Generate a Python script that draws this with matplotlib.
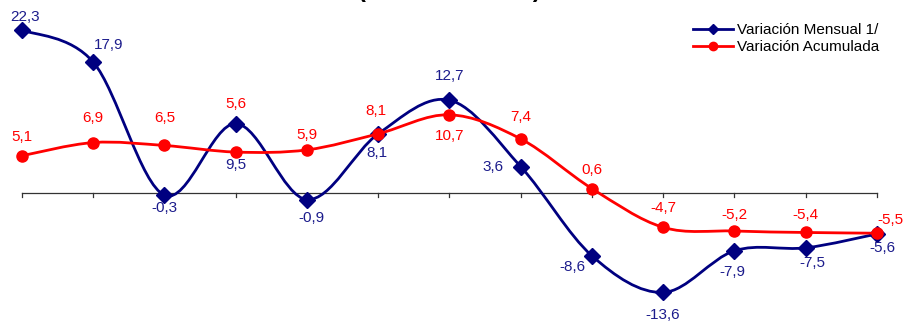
import matplotlib
matplotlib.use("Agg")
import matplotlib.pyplot as plt
import numpy as np
from matplotlib.path import Path
from matplotlib.patches import PathPatch
from matplotlib.lines import Line2D

plt.rcParams['font.family'] = ['Liberation Sans', 'DejaVu Sans']

months = list(range(13))
mensual = [22.3, 17.9, -0.3, 9.5, -0.9, 8.1, 12.7, 3.6, -8.6, -13.6, -7.9, -7.5, -5.6]
acumulada = [5.1, 6.9, 6.5, 5.6, 5.9, 8.1, 10.7, 7.4, 0.6, -4.7, -5.2, -5.4, -5.5]
labels_mensual = ["22,3", "17,9", "-0,3", "9,5", "-0,9", "8,1", "12,7", "3,6", "-8,6", "-13,6", "-7,9", "-7,5", "-5,6"]
labels_acum = ["5,1", "6,9", "6,5", "5,6", "5,9", "8,1", "10,7", "7,4", "0,6", "-4,7", "-5,2", "-5,4", "-5,5"]

BLUE = '#000080'
BLUE_TXT = '#1c1c8c'
RED = '#ff0000'

W, H = 904, 324
fig = plt.figure(figsize=(W / 100, H / 100), dpi=100)
x0, x1 = 22, 877
ax = fig.add_axes([x0 / W, 0, (x1 - x0) / W, 1])
ax.set_xlim(0, 12)
ppu = 7.31
zero_px = 193
ax.set_ylim(-(H - zero_px) / ppu, zero_px / ppu)
ax.axis('off')


def smooth_path(xs, ys):
    pts = np.column_stack([xs, ys]).astype(float)
    n = len(pts)
    verts = [pts[0]]
    codes = [Path.MOVETO]
    for i in range(n - 1):
        p0 = pts[i - 1] if i > 0 else pts[i]
        p1 = pts[i]
        p2 = pts[i + 1]
        p3 = pts[i + 2] if i + 2 < n else pts[i + 1]
        c1 = p1 + (p2 - p0) / 6.0
        c2 = p2 - (p3 - p1) / 6.0
        verts += [c1, c2, p2]
        codes += [Path.CURVE4] * 3
    return Path(verts, codes)


# zero axis with ticks
ax.plot([0, 12], [0, 0], color='#333333', lw=0.9, zorder=1, clip_on=False)
tick_len = 4 / ppu
for m in months:
    ax.plot([m, m], [0, -tick_len], color='#333333', lw=0.9, zorder=1, clip_on=False)

ax.add_patch(PathPatch(smooth_path(months, mensual), fill=False, edgecolor=BLUE, lw=2.0, zorder=3, clip_on=False))
ax.plot(months, mensual, ls='none', marker='D', ms=8, color=BLUE, zorder=4, clip_on=False)
ax.add_patch(PathPatch(smooth_path(months, acumulada), fill=False, edgecolor=RED, lw=2.0, zorder=5, clip_on=False))
ax.plot(months, acumulada, ls='none', marker='o', ms=8, color=RED, zorder=6, clip_on=False)

off_m = [(3, -13), (15, -17), (0, 13), (0, 41), (4, 18), (-1, 19), (0, -24), (-28, 0),
         (-20, 11), (-1, 23), (-2, 21), (7, 15), (5, 14)]
off_a = [(0, -19), (0, -25), (0, -27), (0, -48), (0, -15), (-2, -23), (0, 21), (0, -22),
         (0, -19), (0, -19), (0, -16), (0, -17), (13, -13)]

FS = 11
for m, v, t, (dx, dy) in zip(months, mensual, labels_mensual, off_m):
    ax.annotate(t, (m, v), xytext=(dx * 0.72, -dy * 0.72), textcoords='offset points',
                ha='center', va='center', fontsize=FS, color=BLUE_TXT, zorder=7, annotation_clip=False)
for m, v, t, (dx, dy) in zip(months, acumulada, labels_acum, off_a):
    ax.annotate(t, (m, v), xytext=(dx * 0.72, -dy * 0.72), textcoords='offset points',
                ha='center', va='center', fontsize=FS, color=RED, zorder=7, annotation_clip=False)

# legend
handles = [Line2D([], [], color=BLUE, lw=2, marker='D', ms=5),
           Line2D([], [], color=RED, lw=2, marker='o', ms=6)]
fig.legend(handles, ['Variación Mensual 1/', 'Variación Acumulada'],
           loc='upper left', bbox_to_anchor=(693 / W, 1 - 23 / H), frameon=False,
           fontsize=FS, handlelength=2.6, handletextpad=0.3, labelspacing=0.2,
           borderpad=0, borderaxespad=0)

# clipped title (only the lowest tips of its parentheses show, as in the reference)
fig.text(449 / W, 1 + 3 / H, '(Variación en %)', ha='center', va='baseline',
         fontsize=17, fontweight='bold', color='black')

fig.savefig('out.png', dpi=100)
